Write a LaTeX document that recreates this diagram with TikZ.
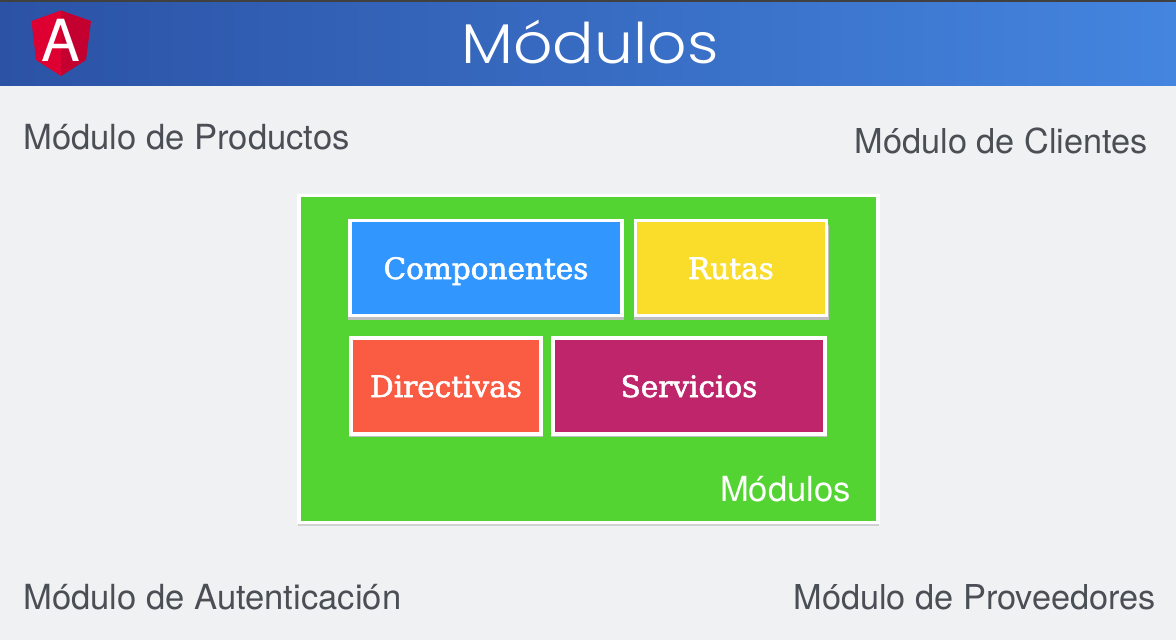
\documentclass[tikz,border=0pt]{standalone}
\usepackage{fontspec}
\setmainfont{TeX Gyre Heros}
\newfontfamily\titlefont{Poppins Light}
\newfontfamily\slabfont[FakeBold=2]{DejaVu Serif}
\definecolor{bgc}{HTML}{F0F1F3}
\definecolor{bannerl}{HTML}{2B52A5}
\definecolor{bannerr}{HTML}{4485DF}
\definecolor{txtc}{HTML}{4A4F55}
\definecolor{greenc}{HTML}{54D433}
\definecolor{bluec}{HTML}{3197FF}
\definecolor{yellowc}{HTML}{FADD2B}
\definecolor{redc}{HTML}{F95B43}
\definecolor{purplec}{HTML}{BE256B}
\definecolor{ngred}{HTML}{DD0031}
\definecolor{ngdark}{HTML}{C3002F}
\tikzset{
 outer/.style={draw=none,inner sep=0pt,text=txtc,font=\fontsize{34.6}{38}\selectfont},
 outerr/.style={outer,font=\fontsize{34.3}{38}\selectfont},
 card/.style={draw=white,line width=3.6pt,inner sep=0pt,text=white,text height=22pt,text depth=0pt,font=\slabfont\fontsize{29.5}{32}\selectfont},
}
\begin{document}
\begin{tikzpicture}[x=1pt,y=-1pt]
\useasboundingbox (0,0) rectangle (1176,640);
\fill[bgc] (0,0) rectangle (1176,640);
\shade[left color=bannerl,right color=bannerr] (0,0) rectangle (1176,85);
\fill[black!75] (0,0) rectangle (1176,1.5);
% logo
\fill[ngred] (61,10.5) -- (31.5,21) -- (36,60) -- (61,76) -- cycle;
\fill[ngdark] (61,10.5) -- (91,21) -- (86,60) -- (61,76) -- cycle;
\node[inner sep=0pt,text=white,font=\fontsize{58}{58}\selectfont] (logoA) at (61,40) {A};
\node[inner sep=0pt,text=white,xscale=1.1,font=\titlefont\fontsize{56}{60}\selectfont] (title) at (590,42) {Módulos};
\node[outer,anchor=west] (prod) at (23,137) {Módulo de Productos};
\node[outerr,anchor=east] (clie) at (1148,141) {Módulo de Clientes};
\node[outer,anchor=west] (aute) at (23,597) {Módulo de Autenticación};
\node[outerr,anchor=east] (prov) at (1156,597) {Módulo de Proveedores};
% green
\fill[black!18] (298,200) rectangle (879,526);
\node[draw=white,line width=3.6pt,fill=greenc,minimum width=579pt,minimum height=327pt,inner sep=0pt] (mod) at (588.5,359) {};
\node[inner sep=0pt,text=white,anchor=east,font=\fontsize{34.6}{38}\selectfont] (modl) at (851,489) {Módulos};
\foreach \a/\b/\c/\d in {348/225/624/320,634/225/829/320,349/342/543/437,551/342/827/437}
  \fill[black!25] (\a,\b) rectangle (\c,\d);
\node[card,fill=bluec,minimum width=272pt,minimum height=95pt] (comp) at (486,268) {Componentes};
\node[card,fill=yellowc,minimum width=191pt,minimum height=95pt] (ruta) at (731,268) {Rutas};
\node[card,fill=redc,minimum width=190pt,minimum height=96pt] (dire) at (446,386) {Directivas};
\node[card,fill=purplec,minimum width=272pt,minimum height=96pt] (serv) at (689,386) {Servicios};
\end{tikzpicture}
\end{document}
